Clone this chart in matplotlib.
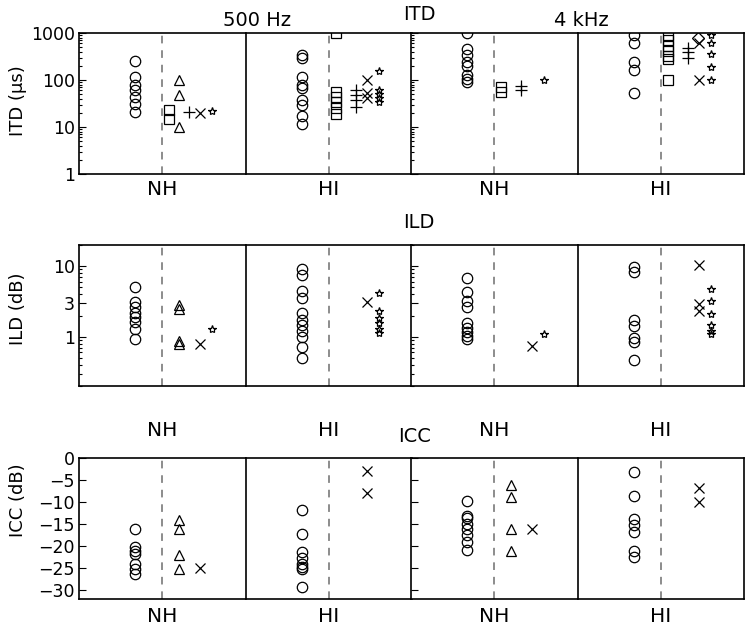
import matplotlib
matplotlib.use('Agg')
import matplotlib.pyplot as plt
from matplotlib.ticker import FixedLocator, FixedFormatter, NullFormatter, LogLocator, NullLocator

# ---------------- data ----------------
groups = ['NH', 'HI', 'NH', 'HI']
freq_titles = ['500 Hz', '4 kHz']
row_titles = ['ITD', 'ILD', 'ICC']
row_ylabels = ['ITD (µs)', 'ILD (dB)', 'ICC (dB)']

# ITD (µs) -- 500 Hz NH
itd_500nh_circle = [250, 115, 80, 60, 43, 31, 21]
itd_500nh_square = [23, 15]
itd_500nh_triangle = [100, 48, 10]
itd_500nh_plus = [21]
itd_500nh_x = [20]
itd_500nh_star = [22]
# ITD -- 500 Hz HI
itd_500hi_circle = [340, 290, 115, 77, 69, 38, 29, 17, 11.5]
itd_500hi_square = [1000, 56, 43, 34, 25, 19]
itd_500hi_plus = [60, 47, 38, 27]
itd_500hi_x = [100, 52, 42]
itd_500hi_star = [155, 62, 50, 41, 34]
# ITD -- 4 kHz NH
itd_4knh_circle = [1000, 450, 340, 240, 200, 130, 105, 90]
itd_4knh_square = [70, 55]
itd_4knh_plus = [75, 60]
itd_4knh_star = [100]
# ITD -- 4 kHz HI
itd_4khi_circle = [900, 620, 240, 165, 52]
itd_4khi_square = [920, 720, 530, 410, 330, 280, 100]
itd_4khi_plus = [480, 400, 290]
itd_4khi_diamond = [780]
itd_4khi_x = [600, 100]
itd_4khi_star = [900, 620, 360, 185, 100]

# ILD (dB) -- 500 Hz NH
ild_500nh_circle = [5.1, 3.1, 2.6, 2.2, 1.9, 1.6, 1.3, 0.92]
ild_500nh_triangle = [2.8, 2.5, 0.86, 0.78]
ild_500nh_x = [0.8]
ild_500nh_star = [1.3]
# ILD -- 500 Hz HI
ild_500hi_circle = [9.0, 7.6, 4.5, 3.6, 2.2, 1.75, 1.45, 1.2, 1.0, 0.72, 0.5]
ild_500hi_x = [3.1]
ild_500hi_star = [4.2, 2.3, 1.85, 1.55, 1.3, 1.12]
# ILD -- 4 kHz NH
ild_4knh_circle = [6.7, 4.3, 3.2, 2.6, 1.55, 1.35, 1.15, 1.02, 0.92]
ild_4knh_x = [0.75]
ild_4knh_star = [1.1]
# ILD -- 4 kHz HI
ild_4khi_circle = [9.8, 8.4, 1.75, 1.4, 0.97, 0.84, 0.47]
ild_4khi_x = [10.3, 2.9, 2.35]
ild_4khi_star = [4.8, 3.2, 2.1, 1.45, 1.2, 1.1]

# ICC (dB) -- 500 Hz NH
icc_500nh_circle = [-16.1, -20.2, -21.0, -21.8, -24.0, -25.3, -26.4]
icc_500nh_triangle = [-14.1, -16.2, -22.0, -25.1]
icc_500nh_x = [-25.0]
# ICC -- 500 Hz HI
icc_500hi_circle = [-11.7, -17.3, -21.3, -22.8, -24.1, -24.7, -25.3, -29.2]
icc_500hi_x = [-2.9, -7.9]
# ICC -- 4 kHz NH
icc_4knh_circle = [-9.7, -13.2, -13.6, -15.0, -16.2, -17.5, -19.0, -20.8]
icc_4knh_triangle = [-6.1, -8.9, -16.0, -21.0]
icc_4knh_x = [-16.0]
# ICC -- 4 kHz HI
icc_4khi_circle = [-3.1, -8.6, -13.9, -15.2, -16.7, -21.1, -22.4]
icc_4khi_x = [-6.9, -9.9]

panels = [
    [  # ITD row
        {'o': itd_500nh_circle, 's': itd_500nh_square, '^': itd_500nh_triangle,
         '+': itd_500nh_plus, 'x': itd_500nh_x, '*': itd_500nh_star},
        {'o': itd_500hi_circle, 's': itd_500hi_square, '+': itd_500hi_plus,
         'x': itd_500hi_x, '*': itd_500hi_star},
        {'o': itd_4knh_circle, 's': itd_4knh_square, '+': itd_4knh_plus,
         '*': itd_4knh_star},
        {'o': itd_4khi_circle, 's': itd_4khi_square, '+': itd_4khi_plus,
         'D': itd_4khi_diamond, 'x': itd_4khi_x, '*': itd_4khi_star},
    ],
    [  # ILD row
        {'o': ild_500nh_circle, '^': ild_500nh_triangle, 'x': ild_500nh_x, '*': ild_500nh_star},
        {'o': ild_500hi_circle, 'x': ild_500hi_x, '*': ild_500hi_star},
        {'o': ild_4knh_circle, 'x': ild_4knh_x, '*': ild_4knh_star},
        {'o': ild_4khi_circle, 'x': ild_4khi_x, '*': ild_4khi_star},
    ],
    [  # ICC row
        {'o': icc_500nh_circle, '^': icc_500nh_triangle, 'x': icc_500nh_x},
        {'o': icc_500hi_circle, 'x': icc_500hi_x},
        {'o': icc_4knh_circle, '^': icc_4knh_triangle, 'x': icc_4knh_x},
        {'o': icc_4khi_circle, 'x': icc_4khi_x},
    ],
]

# ---------------- style ----------------
marker_x = {'o': 0.34, 's': 0.54, '^': 0.60, '+': 0.66, 'D': 0.72, 'x': 0.73, '*': 0.80}
marker_size = {'o': 7.5, 's': 7, '^': 7, '+': 8, 'D': 6.5, 'x': 7, '*': 6}

W, H = 750, 627
fig = plt.figure(figsize=(W / 100, H / 100), dpi=100)

col_left = [79, 246, 411, 578]
col_w = 166
row_top = [33, 245, 458]
row_h = 141
label_y = [190, 430, 617]

for r in range(3):
    for c in range(4):
        ax = fig.add_axes([col_left[c] / W, 1 - (row_top[r] + row_h) / H, col_w / W, row_h / H])
        ax.set_xlim(0, 1)
        if r == 0:
            ax.set_yscale('log')
            ax.set_ylim(1, 1000)
            ax.yaxis.set_major_locator(FixedLocator([1, 10, 100, 1000]))
            ax.yaxis.set_major_formatter(FixedFormatter(['1', '10', '100', '1000']))
            ax.yaxis.set_minor_locator(LogLocator(base=10, subs=range(2, 10)))
            ax.yaxis.set_minor_formatter(NullFormatter())
        elif r == 1:
            ax.set_yscale('log')
            ax.set_ylim(0.2, 20)
            ax.yaxis.set_major_locator(FixedLocator([1, 3, 10]))
            ax.yaxis.set_major_formatter(FixedFormatter(['1', '3', '10']))
            ax.yaxis.set_minor_locator(FixedLocator([0.2, 0.3, 0.4, 0.5, 0.6, 0.7, 0.8, 0.9,
                                                     2, 4, 5, 6, 7, 8, 9, 20]))
            ax.yaxis.set_minor_formatter(NullFormatter())
        else:
            ax.set_ylim(-32, 0)
            ax.yaxis.set_major_locator(FixedLocator([0, -5, -10, -15, -20, -25, -30]))
            ax.yaxis.set_minor_locator(NullLocator())
        ax.set_xticks([])
        ax.axvline(0.5, color='#6e6e6e', lw=1.1, ls=(0, (5, 4.5)), zorder=1)
        for sp in ax.spines.values():
            sp.set_linewidth(1.2)
            sp.set_color('black')
        if c < 3:
            ax.spines['right'].set_visible(False)
        ax.tick_params(axis='y', which='both', direction='in', right=False,
                       labelsize=12.5, pad=3, width=0.8)
        ax.tick_params(axis='y', which='major', length=5)
        ax.tick_params(axis='y', which='minor', length=2.5)
        if c != 0:
            ax.tick_params(axis='y', which='both', labelleft=False)
        if c in (1, 3):
            ax.tick_params(axis='y', which='both', left=False)

        for mk, vals in panels[r][c].items():
            ax.plot([marker_x[mk]] * len(vals), vals, linestyle='none', marker=mk,
                    ms=marker_size[mk], mfc='none', mec='black', mew=0.9, zorder=3)

        fig.text((col_left[c] + col_w / 2) / W, 1 - label_y[r] / H, groups[c],
                 ha='center', va='center', fontsize=14.5)

# y labels
ylabel_y = [101, 309, 500]
for r in range(3):
    fig.text(18 / W, 1 - ylabel_y[r] / H, row_ylabels[r], rotation=90,
             ha='center', va='center', fontsize=13)

# titles
fig.text(257 / W, 1 - 21 / H, freq_titles[0], ha='center', va='center', fontsize=14)
fig.text(581 / W, 1 - 21 / H, freq_titles[1], ha='center', va='center', fontsize=14)
fig.text(419 / W, 1 - 14 / H, row_titles[0], ha='center', va='center', fontsize=14)
fig.text(419 / W, 1 - 223 / H, row_titles[1], ha='center', va='center', fontsize=14)
fig.text(415 / W, 1 - 437 / H, row_titles[2], ha='center', va='center', fontsize=14)

fig.savefig('out.png', dpi=100)
